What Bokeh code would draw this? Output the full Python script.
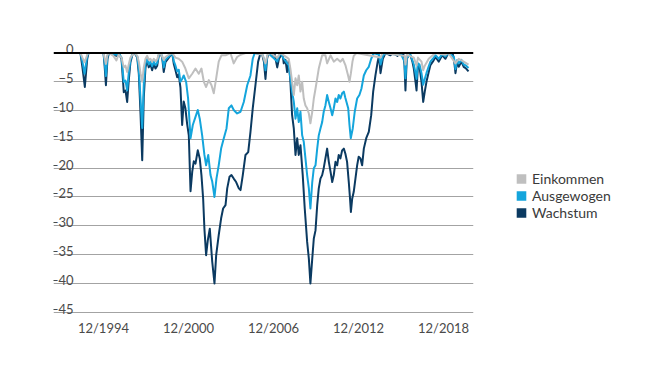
from datetime import datetime, timedelta

from bokeh.core.properties import value
from bokeh.embed import file_html
from bokeh.layouts import row
from bokeh.models import (DatetimeTickFormatter, FixedTicker, Grid, Legend,
                          LegendItem, Range1d, Span)
from bokeh.plotting import figure
from bokeh.resources import INLINE

# ---------------- data (drawdown in %, dates as decimal years) ----------------
series_names = ["Einkommen", "Ausgewogen", "Wachstum"]
series_colors = ["#bfbfbf", "#14a5dc", "#0b3a61"]

wachstum_dates = [
    1993.29, 1993.43, 1993.60, 1993.77, 1993.86, 1994.92, 1994.99, 1995.09, 1995.20, 1995.31,
    1995.83, 1995.98, 1996.19, 1996.35, 1996.47, 1996.59, 1996.70, 1996.82, 1996.96, 1997.11,
    1997.30, 1997.41, 1997.53, 1997.65, 1997.76, 1997.88, 1998.00, 1998.11, 1998.23, 1998.35,
    1998.47, 1998.59, 1998.71, 1998.82, 1998.94, 1999.06, 1999.17, 1999.29, 1999.53, 1999.77,
    1999.88, 2000.00, 2000.12, 2000.23, 2000.35, 2000.47, 2000.58, 2000.70, 2000.82, 2000.94,
    2001.06, 2001.18, 2001.29, 2001.41, 2001.57, 2001.71, 2001.83, 2001.95, 2002.04, 2002.16,
    2002.28, 2002.42, 2002.59, 2002.75, 2002.87, 2003.05, 2003.22, 2003.36, 2003.53, 2003.65,
    2003.81, 2003.95, 2004.11, 2004.28, 2004.47, 2004.59, 2004.75, 2004.94, 2005.13, 2005.29,
    2005.45, 2005.64, 2005.83, 2006.00, 2006.14, 2006.24, 2006.35, 2006.46, 2006.56, 2006.84,
    2006.98, 2007.18, 2007.30, 2007.41, 2007.55, 2007.64, 2007.76, 2007.88, 2007.99, 2008.11,
    2008.23, 2008.35, 2008.47, 2008.59, 2008.70, 2008.82, 2008.98, 2009.12, 2009.29, 2009.41,
    2009.52, 2009.65, 2009.76, 2009.88, 2010.00, 2010.11, 2010.23, 2010.35, 2010.46, 2010.58,
    2010.70, 2010.82, 2010.94, 2011.06, 2011.17, 2011.29, 2011.41, 2011.52, 2011.64, 2011.76,
    2011.88, 2011.99, 2012.11, 2012.23, 2012.31, 2012.38, 2012.47, 2012.58, 2012.70, 2012.82,
    2012.93, 2013.05, 2013.17, 2013.29, 2013.46, 2013.64, 2013.81, 2013.95, 2014.11, 2014.27,
    2014.36, 2014.47, 2014.63, 2014.82, 2015.17, 2015.38, 2015.67, 2015.88, 2016.09, 2016.16,
    2016.23, 2016.32, 2016.44, 2016.58, 2016.72, 2016.82, 2016.94, 2017.01, 2017.11, 2017.22,
    2017.36, 2017.48, 2017.59, 2017.71, 2017.87, 2017.99, 2018.16, 2018.35, 2018.58, 2018.82,
    2019.05, 2019.26, 2019.55, 2019.65, 2019.76, 2019.88, 2019.99, 2020.18, 2020.34, 2020.51,
    2020.68,
]
wachstum = [
    0, -2.5, -5.9, -1, 0, 0, -2, -5.6, -1, 0,
    -0.5, 0, -1, -6.8, -6.5, -8.5, -4.8, -1.6, -0.3, 0,
    -0.8, -3.6, -10.5, -18.6, -7.7, -2.5, -1.3, -2.5, -1.9, -3,
    -1.9, -2.7, -2.2, -0.4, 0, -0.8, -3.3, -1.6, -0.8, 0,
    -1.9, -3, -4.2, -3.7, -6, -12.5, -8.4, -9.6, -12.3, -14.3,
    -24, -20.6, -18.8, -19.2, -16.9, -18.3, -21.2, -25.3, -30.5, -35.1,
    -32.5, -30.5, -36.2, -40, -35.1, -31.6, -28.7, -27, -26.4, -23.5,
    -21.5, -21.2, -21.8, -22.4, -23.5, -23.8, -21.2, -17.7, -17.2, -13.7,
    -9.6, -5.6, -1.5, 0, -0.5, -1.5, -4.5, -1, 0, -0.6,
    0, -2.5, -1, -0.6, 0, -1.8, -1.2, -3.3, -1.3, -5,
    -10.8, -13.1, -17.7, -14.8, -17.7, -16, -21.2, -27, -32.8, -35.7,
    -40, -35.7, -32.2, -30.8, -26.4, -23.5, -21.8, -21.2, -20, -18.3,
    -16.6, -18.9, -20.6, -22.4, -21.2, -18.9, -19.5, -17.7, -18.3, -16.9,
    -16.6, -17.5, -18.9, -22.4, -25, -27.6, -25.3, -24.1, -21.8, -19.5,
    -18, -18.3, -19.5, -16.6, -14.8, -13.7, -10.8, -6.7, -3.9, -1.5,
    -0.5, -3.5, -1, 0, -0.4, 0, -0.5, 0, -0.3, -2,
    -6.5, -1, -0.5, -0.4, -1.5, -2.7, -5, -6.5, -2.1, -2.4,
    -5, -8.5, -6.7, -5, -3.3, -2.1, -1.5, -0.7, -1.5, -0.4,
    -1, 0, 0, -1, -3.5, -1.5, -2.4, -1.5, -2.4, -2.7,
    -3.2,
]

ausgewogen_dates = [
    1993.29, 1993.43, 1993.58, 1993.77, 1993.86, 1994.92, 1994.99, 1995.09, 1995.20, 1995.31,
    1995.83, 1995.98, 1996.19, 1996.35, 1996.47, 1996.59, 1996.70, 1996.82, 1996.96, 1997.11,
    1997.30, 1997.41, 1997.53, 1997.65, 1997.76, 1997.88, 1998.00, 1998.11, 1998.23, 1998.35,
    1998.47, 1998.59, 1998.71, 1998.82, 1998.94, 1999.06, 1999.17, 1999.29, 1999.53, 1999.77,
    1999.88, 2000.00, 2000.12, 2000.23, 2000.35, 2000.47, 2000.58, 2000.75, 2000.89, 2001.06,
    2001.22, 2001.41, 2001.57, 2001.71, 2001.88, 2002.04, 2002.16, 2002.31, 2002.47, 2002.59,
    2002.75, 2002.89, 2003.05, 2003.22, 2003.41, 2003.60, 2003.76, 2003.95, 2004.11, 2004.35,
    2004.59, 2004.82, 2005.06, 2005.29, 2005.45, 2005.59, 2006.14, 2006.24, 2006.35, 2006.46,
    2006.56, 2007.18, 2007.30, 2007.41, 2007.64, 2007.88, 2007.99, 2008.11, 2008.23, 2008.35,
    2008.47, 2008.59, 2008.70, 2008.82, 2008.94, 2009.05, 2009.17, 2009.29, 2009.41, 2009.52,
    2009.65, 2009.76, 2009.88, 2010.00, 2010.11, 2010.23, 2010.35, 2010.46, 2010.58, 2010.70,
    2010.82, 2010.94, 2011.06, 2011.17, 2011.29, 2011.41, 2011.52, 2011.64, 2011.76, 2011.88,
    2011.99, 2012.19, 2012.28, 2012.37, 2012.51, 2012.65, 2012.82, 2012.98, 2013.12, 2013.29,
    2013.46, 2013.64, 2013.81, 2013.99, 2014.36, 2014.47, 2014.63, 2014.82, 2015.67, 2015.88,
    2016.16, 2016.23, 2016.32, 2016.58, 2016.82, 2016.94, 2017.01, 2017.11, 2017.22, 2017.36,
    2017.48, 2017.59, 2017.71, 2017.87, 2017.99, 2018.16, 2018.35, 2018.58, 2018.82, 2019.05,
    2019.26, 2019.65, 2019.76, 2019.88, 2019.99, 2020.18, 2020.34, 2020.51, 2020.68,
]
ausgewogen = [
    0, -1.5, -3.6, -0.5, 0, 0, -1.5, -4, -0.5, 0,
    -0.3, 0, -0.8, -5, -4.8, -6.5, -3.5, -1.2, -0.2, 0,
    -0.6, -2.8, -8, -13, -5.5, -1.8, -1, -2, -1.5, -2.3,
    -1.5, -2.1, -1.7, -0.3, 0, -0.6, -2.5, -1.2, -0.6, 0,
    -1.4, -2.2, -3.2, -2.9, -5, -4.5, -3.9, -5, -7.9, -14.8,
    -12.5, -11.1, -9.9, -11.4, -14.3, -17.7, -19.5, -17.7, -21.2, -22.3,
    -25, -21.8, -19.5, -16.6, -14.8, -13.1, -9.6, -9.1, -9.9, -10.5,
    -10.2, -8.5, -5.6, -3.9, -1, 0, -0.3, -1, -3, -0.7,
    0, -1.5, -0.5, 0, -1, -1.8, -2.1, -4.4, -6.7, -8.5,
    -11.4, -9.6, -12, -10.2, -14.3, -15.4, -18.3, -21.2, -23.5, -27,
    -22.4, -20, -19.5, -16.6, -14.3, -13.1, -12, -10.2, -9.1, -7.3,
    -8.5, -9.6, -10.8, -9.6, -7.9, -8.5, -7.3, -7.9, -7, -6.7,
    -7.8, -9.6, -12.5, -14.8, -13.1, -10.2, -7.9, -7.3, -6.2, -3.9,
    -3, -2.4, -1, 0, -0.3, -2, -0.5, 0, -0.3, 0,
    -1.5, -4.4, -0.8, -0.3, -2, -3.5, -4.5, -1.8, -2, -3.5,
    -5.5, -4.5, -3.5, -2.3, -1.5, -1, -0.4, -1, -0.2, -0.6,
    0, -0.7, -2.8, -1.2, -1.8, -1.2, -2, -2.2, -2.6,
]

einkommen_dates = [
    1993.29, 1993.43, 1993.58, 1993.77, 1993.86, 1994.92, 1994.99, 1995.09, 1995.20, 1995.31,
    1995.62, 1995.83, 1995.98, 1996.19, 1996.35, 1996.47, 1996.59, 1996.70, 1996.82, 1996.96,
    1997.11, 1997.30, 1997.41, 1997.53, 1997.65, 1997.76, 1997.88, 1998.00, 1998.11, 1998.23,
    1998.35, 1998.47, 1998.59, 1998.71, 1998.82, 1998.94, 1999.17, 1999.29, 1999.53, 1999.77,
    2000.00, 2000.23, 2000.47, 2000.70, 2000.94, 2001.18, 2001.41, 2001.64, 2001.83, 2002.00,
    2002.16, 2002.35, 2002.54, 2002.70, 2002.87, 2003.05, 2003.24, 2003.53, 2003.88, 2004.11,
    2004.35, 2004.59, 2004.94, 2005.64, 2006.14, 2006.35, 2006.49, 2006.70, 2007.18, 2007.41,
    2007.88, 2007.99, 2008.11, 2008.23, 2008.35, 2008.47, 2008.59, 2008.70, 2008.82, 2008.94,
    2009.05, 2009.17, 2009.29, 2009.41, 2009.52, 2009.65, 2009.76, 2009.88, 2010.00, 2010.11,
    2010.23, 2010.35, 2010.58, 2010.70, 2010.94, 2011.17, 2011.41, 2011.64, 2011.80, 2011.99,
    2012.19, 2012.28, 2012.38, 2012.49, 2012.58, 2012.77, 2014.47, 2014.61, 2016.16, 2016.23,
    2016.32, 2016.82, 2017.01, 2017.11, 2017.36, 2017.48, 2017.59, 2017.87, 2018.16, 2018.35,
    2019.05, 2019.26, 2019.76, 2019.99, 2020.34, 2020.68,
]
einkommen = [
    0, -0.8, -1.6, -0.3, 0, 0, -0.8, -1.9, -0.3, 0,
    -0.5, -1.3, -0.3, -0.8, -2.5, -2.2, -3.3, -2, -0.8, -0.3,
    0, -0.5, -1.5, -3.5, -5, -2.5, -1, -0.5, -1.2, -1,
    -1.5, -1, -1.4, -1.1, -0.2, 0, -1.2, -0.7, -0.3, 0,
    -0.8, -1, -1.5, -2.7, -4.4, -3.6, -2.7, -3.6, -2.7, -5,
    -5.9, -4.7, -5.6, -7, -4.4, -1.5, -0.4, -0.4, 0, -1.8,
    -0.7, -0.3, 0, 0, -0.3, -1.8, -0.3, 0, -0.8, 0,
    -0.8, -1, -2.7, -5, -7.3, -4.4, -5.6, -3.9, -6.7, -5,
    -7.9, -9.1, -9.6, -10.5, -12.2, -10.2, -7.9, -6.2, -4.4, -2.7,
    -1.5, -0.4, -0.4, -1.8, -0.4, -1.5, -1, -1.5, -1, -2.1,
    -4, -5, -3.5, -1.5, -0.5, 0, -0.8, 0, -0.5, -2,
    -0.3, -0.8, -2.2, -0.8, -1.5, -3, -2.2, -1, -0.4, 0,
    -0.3, 0, -1.8, -1, -1.5, -2,
]

y_ticks = [0, -5, -10, -15, -20, -25, -30, -35, -40, -45]
y_tick_labels = ["0", "\u22125", "\u221210", "\u221215", "\u221220", "\u221225",
                 "\u221230", "\u221235", "\u221240", "\u221245"]
x_tick_dates = [datetime(1994, 12, 1), datetime(2000, 12, 1), datetime(2006, 12, 1),
                datetime(2012, 12, 1), datetime(2018, 12, 1)]
x_start_year, x_end_year = 1991.39, 2021.03
y_min, y_max = -46.094, 3.906


def to_dt(years):
    out = []
    for y in years:
        base = datetime(int(y), 1, 1)
        out.append(base + timedelta(days=(y - int(y)) * 365.25))
    return out


def to_ms(d):
    return (d - datetime(1970, 1, 1)).total_seconds() * 1000.0


FONT = "Lato"
TEXT_COLOR = "#4a4a4a"

x_start = to_dt([x_start_year])[0]
x_end = to_dt([x_end_year])[0]

p = figure(width=490, height=377, output_backend="svg", toolbar_location=None,
           x_axis_type="datetime", y_axis_location=None,
           x_range=Range1d(x_start, x_end), y_range=Range1d(y_min, y_max),
           min_border_left=53, min_border_right=17, min_border_top=30,
           min_border_bottom=59)
p.outline_line_color = None
p.background_fill_color = "white"
p.border_fill_color = "white"
p.frame_align = False
p.grid.visible = False

grid = Grid(dimension=1, ticker=FixedTicker(ticks=[t for t in y_ticks if t != 0]),
            grid_line_color="#a3a3a3", grid_line_width=1)
p.add_layout(grid)

# series (dark first, light on top)
dates = [einkommen_dates, ausgewogen_dates, wachstum_dates]
values = [einkommen, ausgewogen, wachstum]
for i in [2, 1, 0]:
    p.line(to_dt(dates[i]), values[i], line_color=series_colors[i], line_width=2,
           line_join="round")

p.add_layout(Span(location=0, dimension="width", line_color="black", line_width=2))

# y tick labels drawn above their grid lines
p.text(x=[x_start] * len(y_ticks), y=y_ticks, text=y_tick_labels,
       x_offset=20, y_offset=-3.5, text_align="right", text_baseline="alphabetic",
       text_font=value(FONT), text_font_size="13px", text_color=TEXT_COLOR)

ax = p.xaxis[0]
ax.ticker = FixedTicker(ticks=[to_ms(d) for d in x_tick_dates])
fmt = "%m/%Y"
ax.formatter = DatetimeTickFormatter(years=fmt, months=fmt, days=fmt, hours=fmt,
                                     minutes=fmt, seconds=fmt, milliseconds=fmt,
                                     microseconds=fmt, hourmin=fmt, minsec=fmt)
ax.axis_line_color = None
ax.major_tick_line_color = None
ax.minor_tick_line_color = None
ax.major_tick_out = 0
ax.major_tick_in = 0
ax.minor_tick_out = 0
ax.minor_tick_in = 0
ax.major_label_standoff = 1
ax.major_label_text_font = FONT
ax.major_label_text_font_size = "13px"
ax.major_label_text_color = TEXT_COLOR

# legend panel (separate figure to the right of the chart); its frame is
# centred on the legend's vertical centre in the reference
pl = figure(width=180, height=377, output_backend="svg", toolbar_location=None,
            x_axis_location=None, y_axis_location=None,
            x_range=Range1d(0, 1), y_range=Range1d(0, 1),
            min_border_left=0, min_border_right=0, min_border_top=13,
            min_border_bottom=0)
pl.outline_line_color = None
pl.frame_align = False
pl.grid.visible = False
pl.background_fill_color = "white"
pl.border_fill_color = "white"
items = []
for i in range(3):
    r = pl.rect(x=[0.5], y=[0.5], width=0, height=0, fill_color=series_colors[i],
                line_color=None)
    items.append(LegendItem(label=series_names[i], renderers=[r]))
legend = Legend(items=items, location="center_left", glyph_width=12, glyph_height=12,
                label_standoff=5, label_height=16, spacing=-3, padding=0, margin=25,
                border_line_color=None, background_fill_alpha=0,
                label_text_font=FONT, label_text_font_size="14px",
                label_text_color="#3a3a3a")
pl.add_layout(legend)

layout = row(p, pl)
open("out.html", "w").write(file_html(layout, INLINE))
